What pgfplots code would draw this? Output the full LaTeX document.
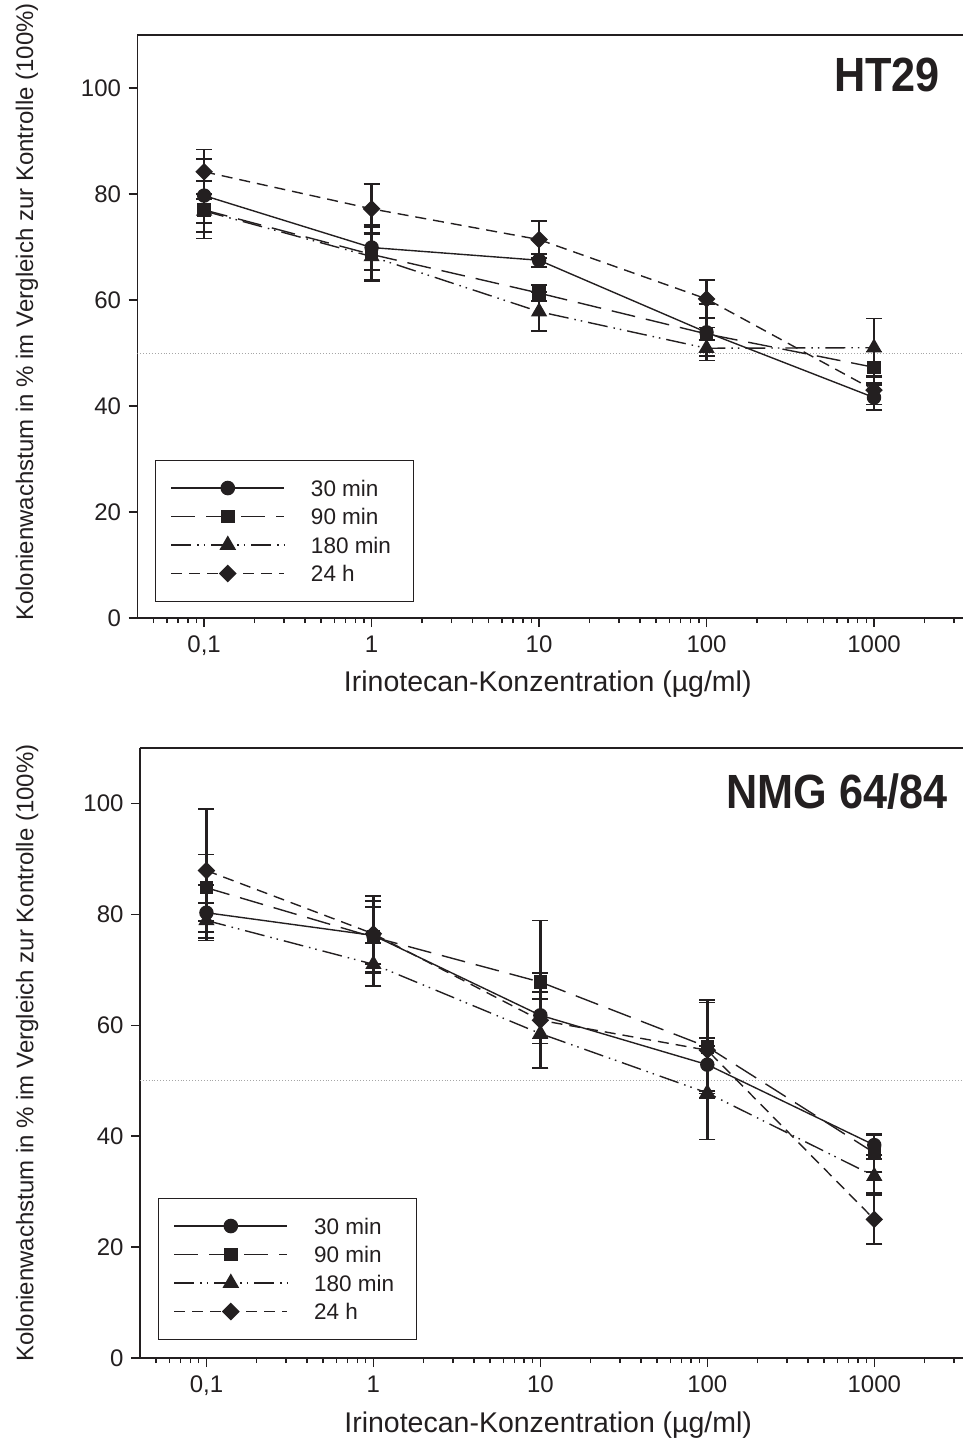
\documentclass[border=0pt]{standalone}
\usepackage{pgfplots}
\pgfplotsset{compat=1.18}
\usepackage{fontspec}
\setmainfont{Liberation Sans}
\usepackage{graphicx}
\definecolor{ink}{HTML}{231F20}
\newcommand\tickfont{\fontsize{24}{28}\selectfont}
\newcommand\legfont{\fontsize{22.5}{26}\selectfont}
\newcommand\labfont{\fontsize{28.5}{33}\selectfont}
\newcommand\ylabfont{\fontsize{24}{28}\selectfont}
\newcommand\titfont{\fontsize{48}{54}\selectfont\bfseries}

\pgfplotstableread{
x y e
0.1 79.7 6.9
1 69.9 4.3
10 67.5 1.2
100 53.9 5.3
1000 41.6 2.4
}\taA
\pgfplotstableread{
x y e
0.1 77.0 5.4
1 68.6 5.1
10 61.3 1.5
100 53.6 1.2
1000 47.3 3.0
}\taB
\pgfplotstableread{
x y e
0.1 76.8 2.3
1 68.2 4.5
10 57.8 3.7
100 50.9 1.5
1000 51.0 5.5
}\taC
\pgfplotstableread{
x y e
0.1 84.2 4.2
1 77.2 4.7
10 71.4 3.5
100 60.2 3.6
1000 43.0 2.7
}\taD
\pgfplotstableread{
x y e
0.1 80.3 5.0
1 76.2 5.1
10 61.8 4.2
100 52.9 4.8
1000 38.4 1.8
}\tbA
\pgfplotstableread{
x y e
0.1 84.8 6.0
1 75.9 6.5
10 67.8 11.1
100 56.1 8.4
1000 37.0 3.4
}\tbB
\pgfplotstableread{
x y e
0.1 78.9 3.1
1 71.0 3.9
10 58.5 6.3
100 47.8 8.4
1000 32.8 3.1
}\tbC
\pgfplotstableread{
x y e
0.1 87.9 11.1
1 76.5 6.8
10 60.9 8.6
100 55.5 8.6
1000 25.0 4.4
}\tbD

\pgfplotsset{
  every axis/.append style={
    xmode=log, xmin=0.04, xmax=3400, ymin=0, ymax=110,
    scale only axis,
    axis x line*=box, axis y line*=left,
    axis line style={line width=1.6pt, color=ink},
    xtick={0.1,1,10,100,1000}, xticklabels={{0,1},1,10,100,1000},
    minor xtick={0.05,0.06,0.07,0.08,0.09,0.2,0.3,0.4,0.5,0.6,0.7,0.8,0.9,2,3,4,5,6,7,8,9,20,30,40,50,60,70,80,90,200,300,400,500,600,700,800,900,2000,3000},
    ytick={0,20,40,60,80,100},
    tick align=outside, xtick pos=left, ytick pos=left,
    major tick length=9pt, minor tick length=5pt,
    every tick/.style={ink, line width=1.4pt},
    tick label style={font=\tickfont, text=ink},
    xticklabel style={yshift=-5pt},
    yticklabel style={xshift=-4pt},
    /pgf/number format/assume math mode=true,
    xlabel={Irinotecan-Konzentration (µg/ml)},
    ylabel={Kolonienwachstum in \% im Vergleich zur Kontrolle (100\%)},
    xlabel style={font=\labfont, text=ink, anchor=center},
    ylabel style={font=\ylabfont, text=ink, anchor=center, rotate=0},
    legend cell align=left,
    legend style={anchor=south west, draw=ink, line width=1pt, fill=white, font=\legfont, text=ink,
      inner xsep=15pt, inner ysep=20pt, row sep=12.5pt, column sep=0pt,
      nodes={inner sep=0pt, text height=16pt, text depth=0pt}},
    legend image code/.code={\path (0pt,0pt) (139pt,0pt); \draw[line width=1.6pt, mark repeat=2,mark phase=2] plot coordinates {(0pt,0pt) (56.5pt,0pt) (113pt,0pt)};},
    error bars/y dir=both, error bars/y explicit,
    error bars/error bar style={solid, line width=2.4pt, ink},
    error bars/error mark options={rotate=90, solid, line width=1.8pt, mark size=8pt, ink},
  },
}
\tikzset{
  sA/.style={ink, line width=1.4pt, solid, mark=*, mark size=6.5pt, mark options={solid, fill=ink}},
  sB/.style={ink, line width=1.4pt, dash pattern=on 24pt off 11pt, mark=square*, mark size=6pt, mark options={solid, fill=ink}},
  sC/.style={ink, line width=1.4pt, dash pattern=on 20pt off 6pt on 1.5pt off 5pt on 1.5pt off 6pt, mark=triangle*, mark size=8pt, mark options={solid, fill=ink}},
  sD/.style={ink, line width=1.4pt, dash pattern=on 11pt off 7pt, mark=square*, mark size=5.5pt, mark options={solid, fill=ink, rotate=45}},
}

\begin{document}
\begin{tikzpicture}
\useasboundingbox (0pt,0pt) rectangle (963pt,-1445pt);
% top panel
\begin{axis}[at={(137.5pt,-618pt)}, anchor=south west, width=825.5pt, height=583pt,
  xlabel style={at={(axis description cs:0.497,-0.113)}},
  ylabel style={at={(axis description cs:-0.134,0.525)}},
  legend style={at={(axis description cs:0.0212,0.0274)}}]
\addplot[forget plot, black!35, dotted, line width=0.9pt] coordinates {(0.04,50) (3400,50)};
\addplot[sA] table[x=x,y=y,y error=e] {\taA}; \addlegendentry{30 min}
\addplot[sB] table[x=x,y=y,y error=e] {\taB}; \addlegendentry{90 min}
\addplot[sC] table[x=x,y=y,y error=e] {\taC}; \addlegendentry{180 min\rule{7pt}{0pt}}
\addplot[sD] table[x=x,y=y,y error=e] {\taD}; \addlegendentry{24 h}
\node[anchor=east, inner sep=0pt, font=\titfont, text=ink] at (rel axis cs:0.972,0.931) {\scalebox{0.9}[1]{HT29}};
\end{axis}
% bottom panel
\begin{axis}[at={(140pt,-1358pt)}, anchor=south west, width=823pt, height=610pt,
  xlabel style={at={(axis description cs:0.496,-0.110)}},
  ylabel style={at={(axis description cs:-0.137,0.5)}},
  legend style={at={(axis description cs:0.0219,0.0295)}}]
\addplot[forget plot, black!35, dotted, line width=0.9pt] coordinates {(0.04,50) (3400,50)};
\addplot[sA] table[x=x,y=y,y error=e] {\tbA}; \addlegendentry{30 min}
\addplot[sB] table[x=x,y=y,y error=e] {\tbB}; \addlegendentry{90 min}
\addplot[sC] table[x=x,y=y,y error=e] {\tbC}; \addlegendentry{180 min\rule{7pt}{0pt}}
\addplot[sD] table[x=x,y=y,y error=e] {\tbD}; \addlegendentry{24 h}
\node[anchor=east, inner sep=0pt, font=\titfont, text=ink] at (rel axis cs:0.981,0.928) {\scalebox{0.9}[1]{NMG 64/84}};
\end{axis}
\end{tikzpicture}
\end{document}
